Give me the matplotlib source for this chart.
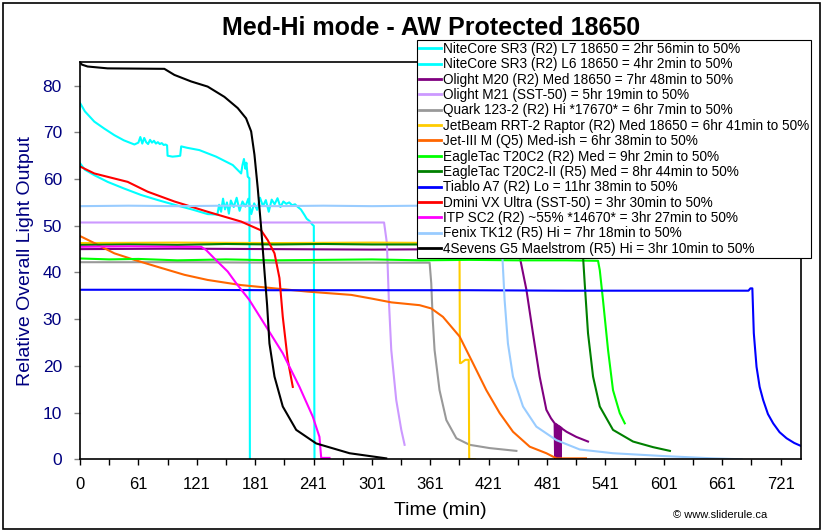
import matplotlib
matplotlib.use("Agg")
import matplotlib.pyplot as plt
from matplotlib.patches import Rectangle


    ## Section 1: data (time in min, relative output) ##

labels = [
    "NiteCore SR3 (R2) L7 18650 = 2hr 56min to 50%",
    "NiteCore SR3 (R2) L6 18650 = 4hr 2min to 50%",
    "Olight M20 (R2) Med 18650 = 7hr 48min to 50%",
    "Olight M21 (SST-50) = 5hr 19min to 50%",
    "Quark 123-2 (R2) Hi *17670* = 6hr 7min to 50%",
    "JetBeam RRT-2 Raptor (R2) Med 18650 = 6hr 41min to 50%",
    "Jet-III M (Q5) Med-ish = 6hr 38min to 50%",
    "EagleTac T20C2 (R2) Med = 9hr 2min to 50%",
    "EagleTac T20C2-II (R5) Med = 8hr 44min to 50%",
    "Tiablo A7 (R2) Lo = 11hr 38min to 50%",
    "Dmini VX Ultra (SST-50) = 3hr 30min to 50%",
    "ITP SC2 (R2) ~55% *14670* = 3hr 27min to 50%",
    "Fenix TK12 (R5) Hi = 7hr 18min to 50%",
    "4Sevens G5 Maelstrom (R5) Hi = 3hr 10min to 50%",
]
colors = ["#00FFFF", "#00FFFF", "#800080", "#CC99FF", "#999999", "#FFCC00", "#FF6600",
          "#00FF00", "#008000", "#0000FF", "#FF0000", "#FF00FF", "#99CCFF", "#000000"]

sr3_l7_t = [0, 5, 14.7, 25, 35.3, 45, 55.9, 60, 62, 64, 66, 68, 70, 72, 74, 76, 78, 80, 82, 84, 86, 88,
            89.5, 90, 95, 100, 103, 104, 110, 122.7, 139.9, 157, 165.6, 167, 168.5, 170, 171, 172.4,
            173.5, 174.1, 174.6]
sr3_l7_y = [76.3, 74.5, 72.3, 70.8, 69.4, 68.3, 67.4, 67.8, 69.0, 67.6, 68.8, 67.9, 67.5, 68.4, 67.8,
            68.2, 67.6, 67.9, 67.5, 67.7, 67.3, 67.4, 67.2, 65.0, 64.8, 64.9, 65.0, 67.0, 66.7, 66.2,
            64.8, 63.0, 61.2, 63.0, 64.3, 62.2, 63.5, 60.5, 60.3, 60.2, 0]

sr3_l6_t = [0, 5, 15, 28.4, 45, 62.7, 80, 97, 115, 131.2, 141.2, 143, 145, 147, 149, 151, 153, 155,
            158, 161, 164, 167, 170, 173, 176, 179, 182, 185, 188, 191, 194, 197, 200, 203, 206, 209,
            212, 215, 218, 221, 224, 227, 230.7, 233, 236, 239, 240.3, 241]
sr3_l6_y = [63.4, 62.0, 60.8, 59.4, 58.0, 56.6, 55.5, 54.5, 53.5, 52.5, 52.4, 54.5, 53.0, 55.8, 53.5,
            55.0, 52.6, 55.4, 54.0, 56.0, 53.2, 55.2, 54.1, 55.8, 52.5, 54.8, 53.4, 56.0, 54.2, 55.5,
            53.0, 55.6, 54.6, 55.9, 54.0, 55.2, 54.7, 55.0, 54.4, 54.6, 54.0, 53.5, 52.3, 51.5, 51.0,
            50.2, 50.0, 0]

m20_t = [0, 100, 200, 300, 400, 440, 446, 451.9, 458.8, 465.5, 472.4, 479.3, 484, 487.8, 488.3, 488.9,
         489.6, 490.3, 491, 491.7, 492.4, 493.1, 493.8, 494.5, 495.2, 500, 510, 522.1]
m20_y = [45.0, 45.1, 45.0, 44.9, 45.0, 44.9, 44.6, 43.4, 36.3, 27.0, 17.7, 10.6, 8.8, 7.7, 0, 7.6, 0,
         7.4, 0, 7.2, 0, 7.0, 0, 6.8, 6.6, 5.9, 4.8, 3.8]

m21_t = [0, 100, 200, 300, 312.5, 315.4, 317.4, 319.9, 325, 330.2, 333.6]
m21_y = [50.7, 50.7, 50.7, 50.7, 50.7, 46.3, 34.1, 23.4, 12.7, 6.3, 3.1]

quark_t = [0, 100, 200, 300, 359.3, 361, 362.5, 364.4, 369.5, 376.5, 386.8, 400.4, 421, 448.5]
quark_y = [42.2, 42.2, 42.1, 42.1, 42.1, 37.7, 30.0, 23.4, 14.8, 8.4, 4.5, 3.1, 2.4, 1.8]

rrt2_t = [0, 100, 200, 300, 390, 390.5, 391.5, 396, 399.5, 400, 406]
rrt2_y = [46.3, 46.4, 46.3, 46.4, 46.3, 20.6, 20.6, 21.3, 21.3, 0, 0]

jet3_t = [0, 14.7, 35.3, 55.9, 79.8, 107.3, 131.2, 165.6, 199.9, 234.1, 278.8, 300, 320, 349, 361,
          373, 390.1, 403.8, 417.6, 431.3, 445, 462.2, 479.3, 489.6, 520]
jet3_y = [47.8, 46.3, 44.1, 42.7, 41.2, 39.5, 38.4, 37.3, 36.6, 35.9, 35.2, 34.4, 33.6, 33.0, 32.3,
          30.5, 26.3, 20.6, 14.8, 9.9, 5.9, 2.7, 1.3, 0.2, 0.2]

t20c2_t = [0, 30, 60, 100, 150, 200, 250, 300, 350, 400, 450, 500, 532.4, 534.2, 537.5, 542.7, 547.8,
           554.7, 559.9]
t20c2_y = [43.0, 42.8, 42.9, 42.6, 42.8, 42.6, 42.7, 42.8, 42.6, 42.7, 42.6, 42.6, 42.5, 40.5, 34.1,
           23.4, 14.8, 9.9, 7.7]

t20c2ii_t = [0, 50, 100, 150, 200, 250, 300, 350, 400, 450, 500, 512, 517, 518.7, 522.1, 527.3, 534.2,
             547.8, 568.4, 589, 606.3]
t20c2ii_y = [45.9, 46.0, 45.9, 46.1, 46.0, 46.1, 46.0, 46.0, 45.9, 45.9, 45.8, 45.5, 43.4, 37.7, 27.0,
             17.7, 11.3, 6.3, 3.8, 2.6, 1.8]

a7_t = [0, 100, 200, 300, 400, 500, 600, 687, 689, 691, 692.5, 695.3, 698.5, 702.1, 707, 712.4, 719,
        726.2, 734, 741.6]
a7_y = [36.3, 36.3, 36.2, 36.2, 36.2, 36.1, 36.1, 36.1, 36.6, 36.6, 27.0, 19.8, 15.5, 12.7, 9.7, 7.7,
        5.8, 4.5, 3.5, 2.8]

dmini_t = [0, 14.7, 49, 69.5, 97, 131.2, 165.6, 186.2, 193, 199.9, 205, 208.4, 213.5, 218.7]
dmini_y = [62.7, 61.2, 59.4, 57.3, 55.2, 53.0, 50.9, 49.0, 46.9, 44.1, 38.8, 30.5, 21.3, 15.5]

itp_t = [0, 50, 100, 124.5, 129.6, 138.1, 151.8, 160.5, 174.1, 191.3, 208.4, 225.6, 239.3, 246.1,
         247.9, 256.4]
itp_y = [45.5, 45.6, 45.5, 45.5, 44.8, 43.0, 40.2, 37.7, 34.1, 28.4, 22.7, 15.5, 9.1, 4.8, 0.3, 0.3]

tk12_t = [0, 50, 100, 150, 200, 250, 300, 350, 400, 430, 434.1, 436.4, 439.8, 445, 455.3, 469, 489.6,
          513.6, 547.8, 599.3, 650.7, 680]
tk12_y = [54.2, 54.3, 54.2, 54.3, 54.2, 54.3, 54.2, 54.3, 54.2, 53.8, 43.4, 34.1, 24.8, 17.7, 11.3, 7.0,
          4.1, 2.1, 1.3, 0.7, 0.2, 0.0]

g5_t = [0, 2, 7.8, 28.4, 86.7, 97, 114.2, 131.2, 148.4, 162.1, 170.7, 175.9, 179.3, 182.7, 186.2,
        189.6, 192.3, 194.7, 199.9, 208.4, 222.2, 242.7, 277, 314.7]
g5_y = [85.0, 84.5, 84.1, 83.7, 83.6, 82.3, 80.9, 79.8, 77.6, 75.2, 73.0, 70.2, 65.2, 58.0, 49.5, 40.2,
        33.0, 24.8, 17.7, 11.3, 6.3, 3.4, 1.3, 0.2]

series_t = [sr3_l7_t, sr3_l6_t, m20_t, m21_t, quark_t, rrt2_t, jet3_t, t20c2_t, t20c2ii_t, a7_t,
            dmini_t, itp_t, tk12_t, g5_t]
series_y = [sr3_l7_y, sr3_l6_y, m20_y, m21_y, quark_y, rrt2_y, jet3_y, t20c2_y, t20c2ii_y, a7_y,
            dmini_y, itp_y, tk12_y, g5_y]

x_tick_pos = list(range(0, 721, 60))
x_tick_labels = ["0", "61", "121", "181", "241", "301", "361", "421", "481", "541", "601", "661", "721"]


    ## Section 2: figure ##

plt.rcParams['font.family'] = ['Liberation Sans', 'DejaVu Sans']
navy = "#000080"

fig = plt.figure(figsize=(8.23, 5.32), dpi=100)
ax = fig.add_axes([80 / 823, 1 - 459.3 / 532, 721 / 823, 397 / 532])

for t, y, c, lab in zip(series_t, series_y, colors, labels):
    ax.plot(t, y, color=c, lw=1.5, label=lab)

ax.set_xlim(0, 741)
ax.set_ylim(0, 85)
ax.set_xticks(x_tick_pos)
ax.set_xticklabels(x_tick_labels, fontsize=12)
ax.set_xticks(range(30, 741, 60), minor=True)
ax.set_yticks(range(0, 81, 10))
ax.tick_params(axis='x', which='both', length=4, width=1, color='black', direction='out', pad=9)
ax.tick_params(axis='y', length=4, width=1, color='#808080', labelcolor=navy, labelsize=12.5, pad=9)
for s in ax.spines.values():
    s.set_color('black')
    s.set_linewidth(1.2)

ax.set_ylabel("Relative Overall Light Output", fontsize=14, color=navy, labelpad=6)
ax.set_xlabel("Time (min)", fontsize=14, labelpad=7)

fig.text(431 / 823, 1 - 28 / 532, "Med-Hi mode - AW Protected 18650", ha='center', va='center',
         fontsize=18, fontweight='bold')
fig.text(720 / 823, 1 - 515 / 532, "\u00a9 www.sliderule.ca", ha='center', va='center', fontsize=8)

leg = ax.legend(loc='upper left', bbox_to_anchor=(416.7 / 823, 1 - 40 / 532),
                bbox_transform=fig.transFigure, fontsize=9.8, frameon=True, fancybox=False,
                framealpha=1, edgecolor='black', borderaxespad=0, borderpad=0.15,
                handlelength=1.6, handletextpad=0.15, labelspacing=0.1)
leg.get_frame().set_linewidth(0.8)
for line in leg.get_lines():
    line.set_linewidth(2)

# outer border round the whole chart
fig.patches.append(Rectangle((3 / 823, 3 / 532), 817 / 823, 526 / 532, transform=fig.transFigure,
                             fill=False, edgecolor='black', lw=1.2))

fig.savefig("out.png", dpi=100)
